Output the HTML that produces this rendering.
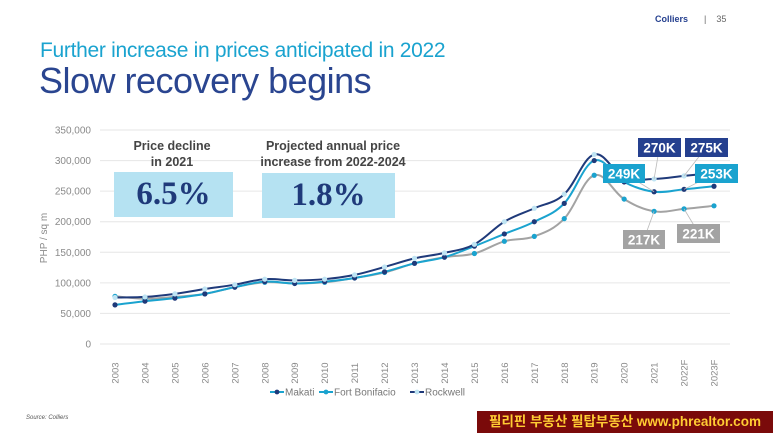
<!DOCTYPE html>
<html><head><meta charset="utf-8"><style>
body{margin:0;width:773px;height:435px;background:#fff;overflow:hidden;position:relative;font-family:"Liberation Sans","Noto Sans CJK KR",sans-serif}
.abs{position:absolute}
</style></head><body>
<div class="abs" style="left:655px;top:14px;font-size:9px;font-weight:bold;color:#25408f">Colliers</div>
<div class="abs" style="left:704px;top:14px;font-size:9px;color:#666">|&nbsp;&nbsp;&nbsp;&nbsp;35</div>
<div class="abs" style="left:40px;top:39px;font-size:21px;color:#1aa3cf;letter-spacing:-0.3px">Further increase in prices anticipated in 2022</div>
<div class="abs" style="left:39px;top:60px;font-size:36px;color:#2a4590;letter-spacing:-0.5px">Slow recovery begins</div>
<svg class="abs" style="left:0;top:0" width="773" height="435" id="chart"></svg>
<div class="abs" style="left:26px;top:415px;font-size:6px;font-style:italic;color:#555">Source: Colliers</div>
<div class="abs" style="left:477px;top:411px;width:296px;height:22px;background:#7a0a0a;color:#ffcc33;font-weight:bold;font-size:13.5px;line-height:22px;text-align:center;white-space:nowrap;overflow:hidden">필리핀 부동산 필탑부동산 www.phrealtor.com</div>
<script>
const categories=["2003","2004","2005","2006","2007","2008","2009","2010","2011","2012","2013","2014","2015","2016","2017","2018","2019","2020","2021","2022F","2023F"];
const rockwell=[76,77,82,90,97,106,104,106,113,126,140,149,163,200,222,245,310,272,270,275,280];
const makati=[64,70,75,82,93,102,99,102,108,118,132,142,160,180,200,230,300,265,249,253,258];
const fortBonifacio=[78,74,77,82,93,101,99,101,108,117,132,142,148,168,176,205,276,237,217,221,226];
const yTicks=[0,50000,100000,150000,200000,250000,300000,350000];
const yTickLabels=["0","50,000","100,000","150,000","200,000","250,000","300,000","350,000"];
const svg=document.getElementById('chart');const NS='http://www.w3.org/2000/svg';
function el(t,a,p){const e=document.createElementNS(NS,t);for(const k in a)e.setAttribute(k,a[k]);(p||svg).appendChild(e);return e;}
function x(i){return 115+i*(714-115)/(categories.length-1);}
function y(v){return 344-v/350000*(344-130);}
yTicks.forEach((t,i)=>{const g=el('line',{x1:100,x2:730,y1:y(t),y2:y(t),stroke:'#e6e6e6','stroke-width':1});
const tx=el('text',{x:91,y:y(t)+3.5,'text-anchor':'end','font-size':'10',fill:'#8a8a8a'});tx.textContent=yTickLabels[i];});
const yt=el('text',{transform:'translate(47,238) rotate(-90)','text-anchor':'middle','font-size':'10',fill:'#8a8a8a'});yt.textContent='PHP / sq m';
categories.forEach((c,i)=>{const t=el('text',{transform:`translate(${x(i)+3.5},373) rotate(-90)`,'text-anchor':'middle','font-size':'9.5',fill:'#8a8a8a'});t.textContent=c;});
function smooth(pts){let d=`M${pts[0][0]},${pts[0][1]}`;for(let i=0;i<pts.length-1;i++){const p0=pts[i-1]||pts[i],p1=pts[i],p2=pts[i+1],p3=pts[i+2]||p2;const t=0.18;d+=` C${p1[0]+(p2[0]-p0[0])*t},${p1[1]+(p2[1]-p0[1])*t} ${p2[0]-(p3[0]-p1[0])*t},${p2[1]-(p3[1]-p1[1])*t} ${p2[0]},${p2[1]}`;}return d;}
function series(vals,lc,dc,name){const pts=vals.map((v,i)=>[x(i),y(v*1000)]);const p=el('path',{d:smooth(pts),fill:'none',stroke:lc,'stroke-width':2});
pts.forEach(q=>{const c=el('circle',{cx:q[0],cy:q[1],r:2.6,fill:dc});});}
series(fortBonifacio,'#a3a3a3','#1aa3cf','fort-bonifacio');
series(makati,'#1aa3cf','#1f3a7a','makati');
series(rockwell,'#1f3a7a','#bfe4f3','rockwell');
function callout(txt,bx,by,w,bg,tx,ty,name){el('line',{x1:tx,y1:ty,x2:bx+w/2,y2:by+9,stroke:'#bbb','stroke-width':0.8});const r=el('rect',{x:bx,y:by,width:w,height:19,fill:bg});const t=el('text',{x:bx+w/2,y:by+14.5,'text-anchor':'middle','font-size':'13.5','font-weight':'bold',fill:'#fff'});t.textContent=txt;}
callout('270K',638,138,43,'#25408f',x(18),y(270000),'callout-rockwell-2021');
callout('275K',685,138,43,'#25408f',x(19),y(275000),'callout-rockwell-2022');
callout('249K',603,164,42,'#1aa3cf',x(18),y(249000),'callout-makati-2021');
callout('253K',695,164,43,'#1aa3cf',x(19),y(253000),'callout-makati-2022');
callout('217K',623,230,42,'#a3a3a3',x(18),y(217000),'callout-fb-2021');
callout('221K',677,224,43,'#a3a3a3',x(19),y(221000),'callout-fb-2022');
const leg=[['Makati','#1aa3cf','#1f3a7a',282],['Fort Bonifacio','#1aa3cf','#1aa3cf',331],['Rockwell','#1f3a7a','#bfe4f3',422]];
leg.forEach(l=>{el('line',{x1:l[3]-12,x2:l[3]+2,y1:392,y2:392,stroke:l[1],'stroke-width':2});el('circle',{cx:l[3]-5,cy:392,r:2.4,fill:l[2]});const t=el('text',{x:l[3]+3,y:395.5,'font-size':'10',fill:'#777'});t.textContent=l[0];});
</script>
<div class="abs" style="left:112px;top:138px;width:120px;text-align:center;font-size:12.5px;font-weight:bold;color:#444;line-height:16px">Price decline<br>in 2021</div>
<div class="abs" style="left:114px;top:172px;width:119px;height:45px;background:#b5e2f2;text-align:center;font-family:'Liberation Serif',serif;font-size:33px;font-weight:bold;color:#1f3a7a;line-height:45px">6.5%</div>
<div class="abs" style="left:248px;top:138px;width:170px;text-align:center;font-size:12.5px;font-weight:bold;color:#444;line-height:16px">Projected annual price<br>increase from 2022-2024</div>
<div class="abs" style="left:262px;top:173px;width:133px;height:45px;background:#b5e2f2;text-align:center;font-family:'Liberation Serif',serif;font-size:33px;font-weight:bold;color:#1f3a7a;line-height:45px">1.8%</div>
</body></html>
